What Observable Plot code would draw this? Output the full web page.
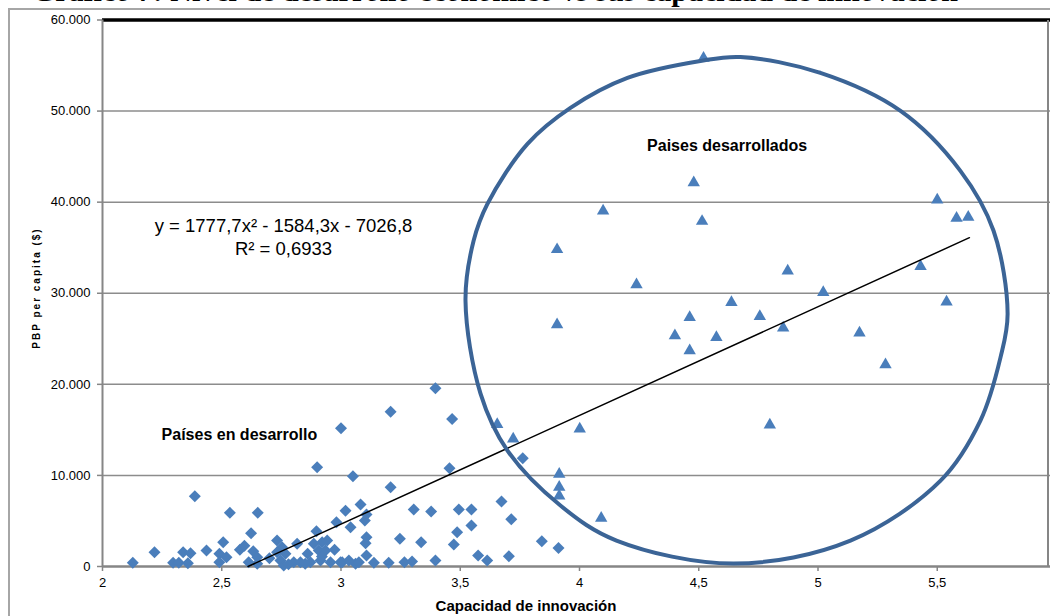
<!DOCTYPE html>
<html><head><meta charset="utf-8">
<script src="https://cdn.jsdelivr.net/npm/d3@7"></script>
<script src="https://cdn.jsdelivr.net/npm/@observablehq/plot@0.6"></script>
<style>
html,body{margin:0;padding:0;width:1050px;height:616px;overflow:hidden;background:#fff;}
#wrap{position:relative;width:1050px;height:616px;overflow:hidden;}
#chart{position:absolute;left:0;top:0;}
#chart svg{max-width:none !important;width:1060px !important;height:616px !important;}
.title{position:absolute;top:-24px;left:0;width:990px;text-align:center;font:bold 30px "Liberation Serif";line-height:30px;white-space:nowrap;}
.frameL{position:absolute;left:8px;top:8px;width:2px;height:620px;background:#a6a6a6;}
.frameT{position:absolute;left:8px;top:8px;width:1050px;height:2px;background:#a6a6a6;}
.rightB{position:absolute;left:1047px;top:20px;width:2px;height:546px;background:#868686;}
.ylab{position:absolute;left:36px;top:288px;transform:translate(-50%,-50%) rotate(-90deg);font:bold 10px "Liberation Sans Narrow","Liberation Sans";letter-spacing:2px;white-space:nowrap;}
.xlab{position:absolute;left:526px;top:597px;transform:translateX(-50%);font:bold 15px "Liberation Sans";white-space:nowrap;}
g[aria-label="annotations"] text{letter-spacing:1.3px;}
g[aria-label="equation"] text{letter-spacing:0.9px;}
</style>
</head><body>
<div id="wrap">
  <div class="title">Gráfico 7: Nivel de desarrollo económico vs sus capacidad de innovación</div>
  <div id="chart"></div>
  <div class="frameL"></div>
  <div class="frameT"></div>
  <div class="rightB"></div>
  <div class="ylab">PBP per capita ($)</div>
  <div class="xlab">Capacidad de innovación</div>
</div>
<script>
// Developing countries (diamonds)
const developingInnov = [2.127,2.218,2.296,2.32,2.338,2.369,2.358,2.387,2.436,2.49,2.52,2.49,2.506,2.534,2.576,2.595,2.613,2.623,2.632,2.649,2.649,2.651,2.732,2.753,2.732,2.767,2.746,2.76,2.802,2.816,2.83,2.872,2.886,2.897,2.900,2.907,2.914,2.921,2.935,2.942,2.956,2.973,2.981,2.998,3.0,3.005,3.019,3.033,3.04,3.050,3.061,3.075,3.082,3.1,3.103,3.107,3.107,3.107,3.138,3.2,3.208,3.208,3.247,3.266,3.298,3.305,3.336,3.378,3.396,3.396,3.455,3.466,3.473,3.487,3.494,3.547,3.547,3.575,3.613,3.673,3.704,3.714,3.762,3.842,3.912,2.78,2.85,2.92,2.70,2.86];
const developingGDP   = [400,1570,400,400,1570,1460,350,7710,1760,1390,1020,470,2670,5890,1830,2270,470,3650,1680,1020,300,5890,2850,2120,1570,1390,660,110,470,2490,470,470,2490,3870,10890,1760,660,2670,1760,2850,470,1830,4860,470,15170,470,6130,660,4310,9900,300,470,6800,5050,2560,5700,3220,1210,400,400,17000,8700,3040,470,550,6250,2670,6030,19560,660,10780,16200,2410,3760,6250,6250,4500,1210,660,7130,1130,5180,11880,2780,2040,250,300,1100,900,1400];
// Developed countries (triangles)
const developedInnov = [4.52,3.655,3.722,4.001,3.915,3.915,3.915,4.091,3.906,3.906,4.239,4.462,4.400,4.462,4.574,4.637,4.756,4.854,4.873,5.022,5.174,4.798,4.479,4.099,4.514,5.500,5.581,5.630,5.430,5.539,5.283];
const developedGDP   = [55800,15600,14000,15100,10150,8700,7750,5300,34800,26550,30950,27350,25350,23700,25150,29000,27450,26200,32450,30100,25650,15550,42150,39050,37900,40250,38250,38350,32950,29050,22150];
// Trend line (as drawn)
const trendInnov = [2.61, 5.635];
const trendGDP   = [0, 36100];
// Hand-drawn ellipse around developed countries
const ellipseInnov = [4.675,5.010,5.346,5.597,5.736,5.795,5.765,5.681,5.514,5.136,4.646,4.155,3.920,3.698,3.585,3.522,3.556,3.614,3.782,3.962,4.201,4.507];
const ellipseGDP   = [55940,54190,50020,43440,36860,27750,22930,16020,9430,2850,330,2850,6690,12720,18980,29180,35760,39820,46400,50350,53640,55500];
// Ticks
const yTicks = [0,10000,20000,30000,40000,50000,60000];
const xTicks = [2,2.5,3,3.5,4,4.5,5,5.5,6];
// Annotations
const annoText  = ["Países en desarrollo", "Paises desarrollados"];
const annoInnov = [2.574, 4.619];
const annoGDP   = [14480, 46180];
const eqText  = ["y = 1777,7x² - 1584,3x - 7026,8", "R² = 0,6933"];
const eqInnov = [2.759, 2.759];
const eqGDP   = [37400, 34880];

const developing = developingInnov.map((x,i)=>({x, y: developingGDP[i]}));
const developed  = developedInnov.map((x,i)=>({x, y: developedGDP[i]}));
const trend = trendInnov.map((x,i)=>({x, y: trendGDP[i]}));
const ellipse = ellipseInnov.map((x,i)=>({x, y: ellipseGDP[i]}));
const annos = annoText.map((t,i)=>({t, x: annoInnov[i], y: annoGDP[i]}));
const eqs = eqText.map((t,i)=>({t, x: eqInnov[i], y: eqGDP[i]}));

const yFmt = d => d === 0 ? "0" : d3.format(",")(d).replace(/,/g, ".");
const xFmt = d => String(d).replace(".", ",");
const blue = "#4a7ebb";

const chart = Plot.plot({
  width: 1060, height: 616,
  marginLeft: 102, marginRight: 4, marginTop: 19.5, marginBottom: 50,
  style: {fontFamily: "Liberation Sans", fontSize: "13px", background: "transparent", overflow: "visible"},
  x: {domain: [2, 6]},
  y: {domain: [0, 60000]},
  marks: [
    Plot.gridY(yTicks.slice(1, -1), {stroke: "#8c8c8c", strokeWidth: 1.5, strokeOpacity: 1}),
    Plot.ruleY([60000], {stroke: "black", strokeWidth: 3.5}),
    Plot.axisY({ticks: yTicks, tickSize: 5, tickPadding: 7, tickFormat: yFmt, label: null, stroke: "#868686", fill: "black", strokeWidth: 1.5, fontSize: 13}),
    Plot.axisX({ticks: xTicks, tickSize: 5, tickPadding: 6, tickFormat: xFmt, label: null, stroke: "#868686", fill: "black", strokeWidth: 1.5, fontSize: 13}),
    Plot.ruleX([2], {stroke: "#868686", strokeWidth: 2}),
    Plot.ruleY([0], {stroke: "#868686", strokeWidth: 2.5}),
    Plot.dot(developing, {x: "x", y: "y", symbol: "diamond2", r: 5.4, fill: blue}),
    Plot.dot(developed, {x: "x", y: "y", symbol: "triangle", r: 4.6, fill: blue}),
    Plot.line(trend, {x: "x", y: "y", stroke: "black", strokeWidth: 1.5}),
    Plot.line(ellipse, {x: "x", y: "y", curve: "catmull-rom-closed", stroke: "#3b6496", strokeWidth: 4}),
    Plot.text(annos, {x: "x", y: "y", text: "t", fontWeight: "bold", fontSize: 16, fill: "black", ariaLabel: "annotations"}),
    Plot.text(eqs, {x: "x", y: "y", text: "t", fontSize: 18.5, fill: "black", ariaLabel: "equation"})
  ]
});
document.getElementById("chart").appendChild(chart);
</script>
</body></html>
